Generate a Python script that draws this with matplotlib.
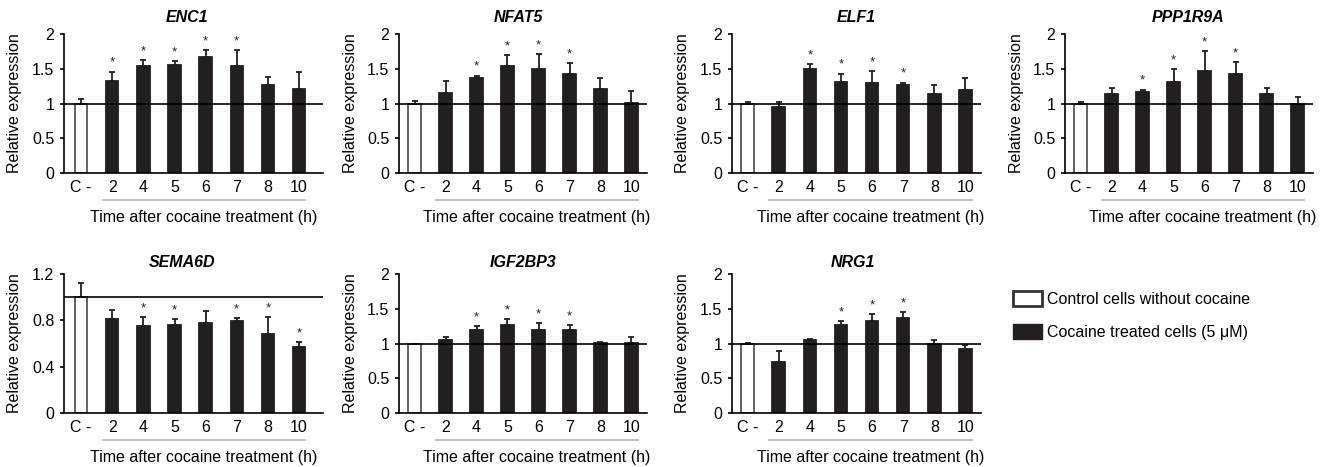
import matplotlib
matplotlib.use("Agg")
import matplotlib.pyplot as plt
import matplotlib.transforms as mtransforms
from matplotlib.patches import Patch
import numpy as np

plt.rcParams['font.family'] = ['Liberation Sans', 'DejaVu Sans']

# ---------------- data ----------------
categories = ["C -", "2", "4", "5", "6", "7", "8", "10"]
genes = ["ENC1", "NFAT5", "ELF1", "PPP1R9A", "SEMA6D", "IGF2BP3", "NRG1"]

enc1_mean = [1.00, 1.33, 1.54, 1.56, 1.67, 1.54, 1.27, 1.21]
enc1_err = [0.07, 0.13, 0.08, 0.05, 0.10, 0.23, 0.11, 0.24]
enc1_sig = [1, 2, 3, 4, 5]

nfat5_mean = [1.00, 1.15, 1.37, 1.54, 1.49, 1.42, 1.21, 1.01]
nfat5_err = [0.03, 0.18, 0.03, 0.16, 0.22, 0.16, 0.16, 0.17]
nfat5_sig = [2, 3, 4, 5]

elf1_mean = [1.00, 0.95, 1.49, 1.31, 1.30, 1.27, 1.13, 1.19]
elf1_err = [0.02, 0.07, 0.08, 0.12, 0.17, 0.03, 0.14, 0.17]
elf1_sig = [2, 3, 4, 5]

ppp1r9a_mean = [1.00, 1.13, 1.17, 1.31, 1.47, 1.43, 1.13, 1.00]
ppp1r9a_err = [0.02, 0.09, 0.03, 0.19, 0.28, 0.17, 0.10, 0.10]
ppp1r9a_sig = [2, 3, 4, 5]

sema6d_mean = [1.00, 0.81, 0.75, 0.76, 0.78, 0.79, 0.68, 0.57]
sema6d_err = [0.12, 0.08, 0.08, 0.05, 0.10, 0.03, 0.15, 0.04]
sema6d_sig = [2, 3, 5, 6, 7]

igf2bp3_mean = [1.00, 1.055, 1.19, 1.27, 1.19, 1.20, 1.01, 1.01]
igf2bp3_err = [0.00, 0.035, 0.06, 0.08, 0.10, 0.07, 0.01, 0.09]
igf2bp3_sig = [2, 3, 4, 5]

nrg1_mean = [1.00, 0.73, 1.045, 1.26, 1.33, 1.36, 1.00, 0.92]
nrg1_err = [0.01, 0.16, 0.015, 0.06, 0.09, 0.09, 0.05, 0.06]
nrg1_sig = [3, 4, 5]

means = [enc1_mean, nfat5_mean, elf1_mean, ppp1r9a_mean, sema6d_mean, igf2bp3_mean, nrg1_mean]
errs = [enc1_err, nfat5_err, elf1_err, ppp1r9a_err, sema6d_err, igf2bp3_err, nrg1_err]
sigs = [enc1_sig, nfat5_sig, elf1_sig, ppp1r9a_sig, sema6d_sig, igf2bp3_sig, nrg1_sig]

yticks_default = [0, 0.5, 1, 1.5, 2]
yticklabels_default = ["0", "0.5", "1", "1.5", "2"]
yticks_sema = [0, 0.4, 0.8, 1.2]
yticklabels_sema = ["0", "0.4", "0.8", "1.2"]

xlabel_text = "Time after cocaine treatment (h)"
ylabel_text = "Relative expression"
legend_labels = ["Control cells without cocaine", "Cocaine treated cells (5 \u03bcM)"]

# ---------------- layout (pixels) ----------------
W, H = 1331, 467
fig = plt.figure(figsize=(W / 100, H / 100), dpi=100)

col_left = [64, 399, 732, 1065]
col_width = [259, 248, 249, 248]
row_zero = [173, 413]
row_top = [34, 274]
title_y = [1.122, 1.086]
title_x = [0.475, 0.48, 0.50, 0.496, 0.455, 0.50, 0.486]

BLACK = "#231f20"
FS = 11.5

for i, gene in enumerate(genes):
    r, c = divmod(i, 4)
    left, width = col_left[c], col_width[c]
    bottom, top = row_zero[r], row_top[r]
    ax = fig.add_axes([left / W, (H - bottom) / H, width / W, (bottom - top) / H])

    x = np.arange(len(categories))
    m = np.array(means[i])
    e = np.array(errs[i])
    colors = ["white"] + [BLACK] * (len(x) - 1)
    edges = ["#555555"] + [BLACK] * (len(x) - 1)
    ax.bar(x, m, width=0.4, color=colors, edgecolor=edges, linewidth=1.3, zorder=2)
    ax.errorbar(x, m, yerr=[np.zeros_like(e), e], fmt="none", ecolor=BLACK,
                elinewidth=1.3, capsize=2.5, capthick=1.3, zorder=3)
    ax.axhline(1.0, color="black", lw=1.2, zorder=4)

    for k in sigs[i]:
        ax.annotate("*", (x[k], m[k] + e[k]), xytext=(0, 2), textcoords="offset points",
                    ha="center", va="bottom", fontsize=9.5, color=BLACK)

    if gene == "SEMA6D":
        ax.set_ylim(0, 1.2)
        ax.set_yticks(yticks_sema)
        ax.set_yticklabels(yticklabels_sema)
    else:
        ax.set_ylim(0, 2)
        ax.set_yticks(yticks_default)
        ax.set_yticklabels(yticklabels_default)

    if c == 0:
        ax.set_xlim(-0.55, 7.77)
    else:
        ax.set_xlim(-0.5, 7.5)
    ax.set_xticks(x)
    ax.set_xticklabels(categories)

    for s in ["top", "right"]:
        ax.spines[s].set_visible(False)
    for s in ["left", "bottom"]:
        ax.spines[s].set_linewidth(1.2)
        ax.spines[s].set_color("black")
    ax.tick_params(axis="y", direction="out", length=3, width=1.2, pad=4, labelsize=FS)
    ax.tick_params(axis="x", length=0, pad=5, labelsize=FS)

    ax.set_ylabel(ylabel_text, fontsize=FS, va="center")
    ax.yaxis.set_label_coords(-49 / width, 0.5)

    ax.text(title_x[i], title_y[r], gene, transform=ax.transAxes, ha="center", va="center",
            fontsize=FS, fontweight="bold", style="italic")

    trans = mtransforms.blended_transform_factory(ax.transData, ax.transAxes)
    ax.plot([0.7, 7.2], [-0.194, -0.194], transform=trans, clip_on=False,
            color="#b3b3b3", lw=1.2)
    ax.text(3.95, -0.317, xlabel_text, transform=trans, ha="center", va="center", fontsize=FS)

handles = [Patch(facecolor="white", edgecolor="#333333", linewidth=2.0),
           Patch(facecolor=BLACK, edgecolor=BLACK, linewidth=1.0)]
fig.legend(handles, legend_labels, loc="upper left",
           bbox_to_anchor=(1013 / W, 1 - 291 / H), frameon=False, fontsize=FS,
           handlelength=1.8, handleheight=1.05, handletextpad=0.35, labelspacing=1.1,
           borderpad=0, borderaxespad=0)

fig.savefig("out.png", dpi=100)
